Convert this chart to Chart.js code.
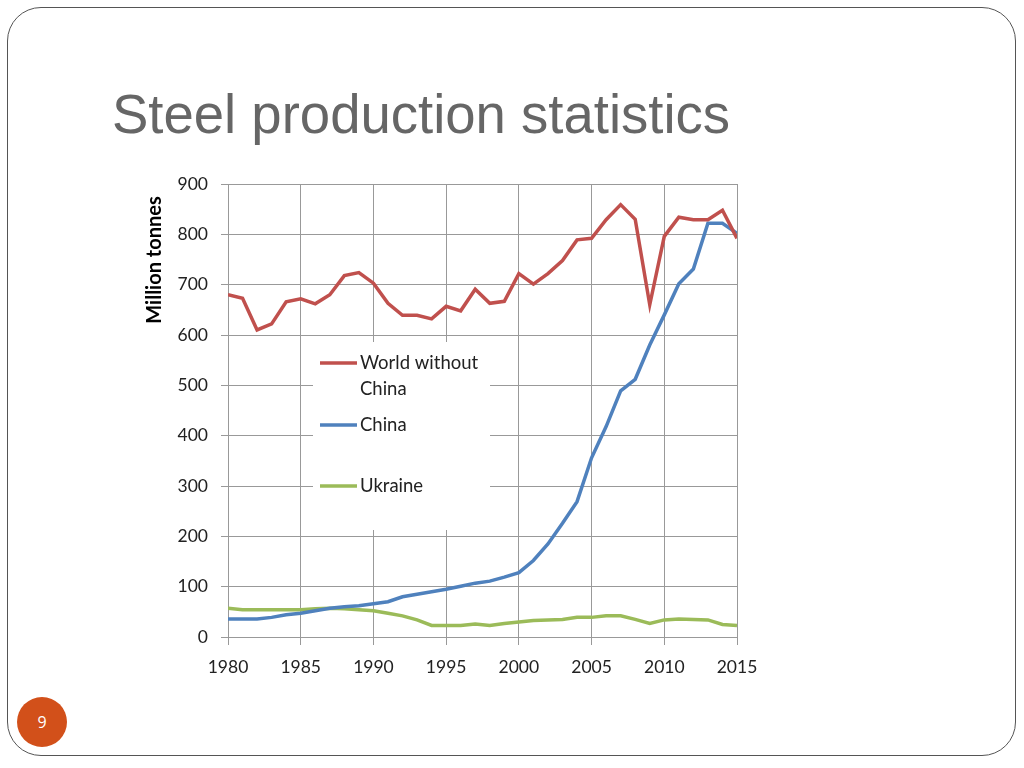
<!DOCTYPE html>
<html>
<head>
<meta charset="utf-8">
<script src="https://cdn.jsdelivr.net/npm/chart.js@4"></script>
<style>
  html, body { margin: 0; padding: 0; background: #fff; }
  #page { position: relative; width: 1024px; height: 768px; overflow: hidden; background: #fff; }
  #frame { position: absolute; left: 7px; top: 7px; width: 1009px; height: 749px; border: 1px solid #555; border-radius: 34px; box-sizing: border-box; }
  #title { position: absolute; left: 112px; top: 86px; font-family: 'Liberation Sans Narrow', 'Liberation Sans', Arial, sans-serif; font-size: 56px; color: #666; white-space: nowrap; transform-origin: 0 0; line-height: 1; }
  #num { position: absolute; left: 17px; top: 697px; width: 50px; height: 50px; border-radius: 50%; background: #D2501A; color: #fff; font-family: 'Open Sans', sans-serif; font-size: 16px; line-height: 50px; text-align: center; }
  canvas { position: absolute; left: 0; top: 0; }
</style>
</head>
<body>
<div id="page">
  <div id="frame"></div>
  <div id="title">Steel production statistics</div>
  <div id="num">9</div>
  <canvas id="c" width="1024" height="768"></canvas>
</div>
<script>
const years = [1980,1981,1982,1983,1984,1985,1986,1987,1988,1989,1990,1991,1992,1993,1994,1995,1996,1997,1998,1999,2000,2001,2002,2003,2004,2005,2006,2007,2008,2009,2010,2011,2012,2013,2014,2015];
const worldWithoutChina = [680,673,610,622,666,672,662,680,718,724,703,663,639,639,632,657,648,691,663,667,722,701,722,748,789,792,829,859,830,660,796,834,829,829,848,792];
const china = [36,36,36,39,44,47,52,57,60,62,66,70,80,85,90,95,101,107,111,119,128,152,185,226,269,356,418,489,512,580,640,702,731,822,822,802];
const ukraine = [57,54,54,54,54,54,56,57,56,54,52,47,42,34,23,23,23,26,23,27,30,33,34,35,39,39,42,42,35,27,34,36,35,34,25,23];
const seriesLabels = ['World without China', 'China', 'Ukraine'];
const legendLines = [['World without', 'China'], ['China'], ['Ukraine']];
const yTicks = [0,100,200,300,400,500,600,700,800,900];
const xTicks = [1980,1985,1990,1995,2000,2005,2010,2015];

// fit title width
(function(){
  const t = document.getElementById('title');
  const w = t.getBoundingClientRect().width;
  const target = 618;
  t.style.transform = 'scaleX(' + (target / w) + ')';
})();

const toPts = arr => arr.map((v, i) => ({x: years[i], y: v}));
const FONT = "Lato, 'Open Sans', sans-serif";

const overlay = {
  id: 'overlay',
  afterDatasetsDraw(chart) {
    const ctx = chart.ctx;
    ctx.save();
    // legend box
    ctx.fillStyle = '#fff';
    ctx.fillRect(313, 342, 177, 188);
    const colors = chart.data.datasets.map(d => d.borderColor);
    const rows = [363, 425, 486];
    ctx.font = '18.5px ' + FONT;
    ctx.textBaseline = 'middle';
    ctx.fillStyle = '#222';
    legendLines.forEach((lines, i) => {
      ctx.strokeStyle = colors[i];
      ctx.lineWidth = 3.5;
      ctx.beginPath();
      ctx.moveTo(320, rows[i]);
      ctx.lineTo(357, rows[i]);
      ctx.stroke();
      lines.forEach((s, j) => ctx.fillText(s, 360, rows[i] + j * 26));
    });
    // y axis title
    ctx.translate(155, 260);
    ctx.rotate(-Math.PI / 2);
    ctx.font = 'bold 20px ' + FONT;
    ctx.textAlign = 'center';
    ctx.fillStyle = '#000';
    ctx.fillText('Million tonnes', 0, 0);
    ctx.restore();
  }
};

new Chart(document.getElementById('c'), {
  type: 'line',
  data: {
    datasets: [
      { label: seriesLabels[0], data: toPts(worldWithoutChina), borderColor: '#C0504D', borderWidth: 3.5, pointRadius: 0, tension: 0 },
      { label: seriesLabels[1], data: toPts(china), borderColor: '#4F81BD', borderWidth: 3.5, pointRadius: 0, tension: 0 },
      { label: seriesLabels[2], data: toPts(ukraine), borderColor: '#9BBB59', borderWidth: 3.5, pointRadius: 0, tension: 0 }
    ]
  },
  options: {
    responsive: false,
    animation: false,
    layout: { padding: { left: 100, top: 184, right: 287, bottom: 71 } },
    plugins: { legend: { display: false }, tooltip: { enabled: false } },
    scales: {
      x: {
        type: 'linear', min: 1980, max: 2015,
        afterBuildTicks: s => { s.ticks = xTicks.map(v => ({value: v})); },
        afterFit: s => { s.height = 60; },
        grid: { color: '#999', lineWidth: 1, tickLength: 8 },
        border: { color: '#999' },
        ticks: { color: '#222', font: { family: FONT, size: 17.5 }, padding: 12, callback: v => String(v), maxRotation: 0 }
      },
      y: {
        min: 0, max: 900,
        afterBuildTicks: s => { s.ticks = yTicks.map(v => ({value: v})); },
        afterFit: s => { s.width = 128; },
        grid: { color: '#999', lineWidth: 1, tickLength: 7 },
        border: { color: '#999' },
        ticks: { color: '#222', font: { family: FONT, size: 17.5 }, padding: 13 }
      }
    }
  },
  plugins: [overlay]
});
</script>
</body>
</html>
